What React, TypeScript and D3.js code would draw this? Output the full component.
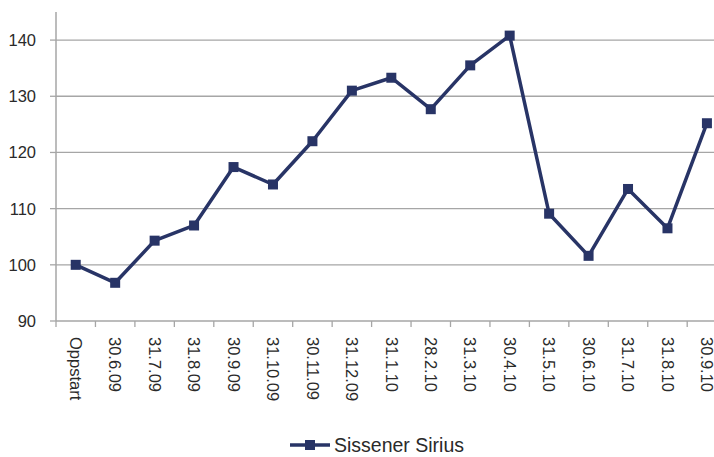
import React from "react";
import * as d3 from "d3";

const categories = [
  "Oppstart", "30.6.09", "31.7.09", "31.8.09", "30.9.09", "31.10.09", "30.11.09",
  "31.12.09", "31.1.10", "28.2.10", "31.3.10", "30.4.10", "31.5.10", "30.6.10",
  "31.7.10", "31.8.10", "30.9.10",
];
const values = [
  100, 96.8, 104.3, 107.0, 117.4, 114.3, 122.0, 131.0, 133.3, 127.7, 135.5,
  140.8, 109.1, 101.6, 113.5, 106.5, 125.2,
];
const yTicks = [90, 100, 110, 120, 130, 140];
const seriesName = "Sissener Sirius";

const W = 714;
const H = 457;
const left = 56;
const bandW = 39.45;
const top = 12;
const bottom = 321;
const navy = "#283466";
const grid = "#A6A6A6";
const font = "'Liberation Sans', Arial, sans-serif";

export default function App() {
  const x = d3
    .scaleBand<string>()
    .domain(categories)
    .range([left, left + bandW * categories.length])
    .paddingInner(0)
    .paddingOuter(0);
  const y = d3.scaleLinear().domain([90, 145]).range([bottom, top]);
  const cx = (c: string) => (x(c) as number) + x.bandwidth() / 2;
  const pts: [number, number][] = categories.map((c, i) => [cx(c), y(values[i])]);
  const line = d3.line()(pts) as string;
  const right = left + bandW * categories.length;
  const boundaries = d3.range(categories.length + 1).map((i) => left + i * x.step());
  const ms = 10;

  return (
    <>
      <style>{`body{margin:0}`}</style>
      <svg width={W} height={H} style={{ display: "block", background: "#fff" }}>
        {yTicks.map((t) => (
          <g key={t}>
            {t !== 90 && (
              <line x1={left} x2={right} y1={y(t)} y2={y(t)} stroke={grid} strokeWidth={1.3} />
            )}
            <line x1={left - 6} x2={left} y1={y(t)} y2={y(t)} stroke={grid} strokeWidth={1.3} />
            <text
              x={36}
              y={y(t)}
              dy="0.36em"
              textAnchor="end"
              fontFamily={font}
              fontSize={16.5}
              fill="#2a2a2a"
            >
              {t}
            </text>
          </g>
        ))}
        <line x1={left} x2={left} y1={top} y2={bottom} stroke={grid} strokeWidth={1.5} />
        <line x1={left} x2={right} y1={bottom} y2={bottom} stroke={grid} strokeWidth={1.5} />
        {boundaries.map((b, i) => (
          <line key={i} x1={b} x2={b} y1={bottom} y2={bottom + 6} stroke={grid} strokeWidth={1.3} />
        ))}
        {categories.map((c) => (
          <text
            key={c}
            transform={`translate(${cx(c)},337) rotate(90)`}
            dy="0.35em"
            fontFamily={font}
            fontSize={16.5}
            fill="#2a2a2a"
          >
            {c}
          </text>
        ))}
        <path d={line} fill="none" stroke={navy} strokeWidth={3.5} strokeLinejoin="round" />
        {pts.map(([px, py], i) => (
          <rect key={i} x={px - ms / 2} y={py - ms / 2} width={ms} height={ms} fill={navy} />
        ))}
        <g>
          <line x1={290} x2={330} y1={445} y2={445} stroke={navy} strokeWidth={3.5} />
          <rect x={310 - ms / 2} y={445 - ms / 2} width={ms} height={ms} fill={navy} />
          <text x={334} y={445} dy="0.36em" fontFamily={font} fontSize={19.5} fill="#2a2a2a">
            {seriesName}
          </text>
        </g>
      </svg>
    </>
  );
}
